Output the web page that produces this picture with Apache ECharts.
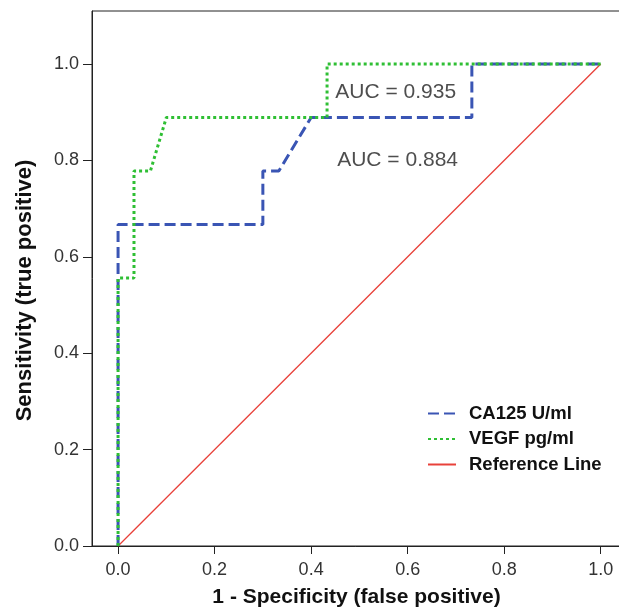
<!DOCTYPE html>
<html><head><meta charset="utf-8">
<script src="https://cdn.jsdelivr.net/npm/echarts@6/dist/echarts.min.js"></script>
<style>html,body{margin:0;padding:0;background:#fff}#c{width:619px;height:608px}</style>
</head><body><div id="c"></div>
<script>
// ---- data ----
const xTicks = [0, 0.2, 0.4, 0.6, 0.8, 1.0];
const yTicks = [0, 0.2, 0.4, 0.6, 0.8, 1.0];
const seriesNames = ['CA125 U/ml', 'VEGF pg/ml', 'Reference Line'];
const ca125 = [[0,0],[0,0.667],[0.3,0.667],[0.3,0.778],[0.333,0.778],[0.4,0.889],[0.733,0.889],[0.733,1],[1,1]];
const vegf  = [[0,0],[0,0.556],[0.033,0.556],[0.033,0.778],[0.067,0.778],[0.1,0.889],[0.433,0.889],[0.433,1],[1,1]];
const refLine = [[0,0],[1,1]];
const aucTexts = ['AUC = 0.935', 'AUC = 0.884'];
const aucAnchors = [[0.450, 0.942], [0.454, 0.801]];

const FONT = 'Liberation Sans, Arial, sans-serif';
const chart = echarts.init(document.getElementById('c'), null, {renderer:'canvas'});
chart.setOption({
  animation: false,
  backgroundColor: '#fff',
  grid: {left: 92, top: 11, right: -2, bottom: 62, containLabel: false, outerBoundsMode: 'none',
         show: true, borderColor: '#222', borderWidth: 1},
  xAxis: {
    type: 'value', min: -0.054, max: 1.042,
    name: '1 - Specificity (false positive)', nameLocation: 'middle', nameGap: 41,
    nameTextStyle: {fontFamily: FONT, fontSize: 21, fontWeight: 'bold', color: '#111'},
    axisLine: {onZero: false, lineStyle: {color: '#222', width: 1}},
    axisTick: {show: true, length: 8, customValues: xTicks, lineStyle: {color: '#222'}},
    axisLabel: {customValues: xTicks, fontFamily: FONT, fontSize: 18, color: '#333', margin: 15,
      formatter: v => v.toFixed(1)},
    splitLine: {show: false}
  },
  yAxis: {
    type: 'value', min: 0, max: 1.11,
    name: 'Sensitivity (true positive)', nameLocation: 'middle', nameGap: 56,
    nameTextStyle: {fontFamily: FONT, fontSize: 22, fontWeight: 'bold', color: '#111', padding: [0, 24, 0, 0]},
    axisLine: {show: true, onZero: false, lineStyle: {color: '#222', width: 1}},
    axisTick: {show: true, length: 9, customValues: yTicks, lineStyle: {color: '#222'}},
    axisLabel: {customValues: yTicks, fontFamily: FONT, fontSize: 18, color: '#333', margin: 13,
      formatter: v => v.toFixed(1)},
    splitLine: {show: false}
  },
  legend: {
    orient: 'vertical', left: 422, top: 399, itemWidth: 28, itemHeight: 6, itemGap: 6.5,
    data: seriesNames,
    itemStyle: {opacity: 0},
    textStyle: {fontFamily: FONT, fontSize: 18.5, fontWeight: 'bold', color: '#111', padding: [0, 0, 0, 8]}
  },
  series: [
    {name: seriesNames[2], type: 'line', data: refLine, symbol: 'none', z: 1,
     lineStyle: {color: '#e8413a', width: 1.3}, itemStyle: {color: '#e8413a'}},
    {name: seriesNames[0], type: 'line', data: ca125, symbol: 'none', z: 2,
     lineStyle: {color: '#3a55b4', width: 3, type: [11, 5]}, itemStyle: {color: '#3a55b4'}},
    {name: seriesNames[1], type: 'line', data: vegf, symbol: 'none', z: 3,
     lineStyle: {color: '#2fbf34', width: 3, type: [3, 3]}, itemStyle: {color: '#2fbf34'}},
    {name: 'auc', type: 'scatter', silent: true, symbolSize: 0, z: 5,
     data: aucAnchors.map((c, i) => ({value: c, label: {formatter: aucTexts[i]}})),
     itemStyle: {color: 'rgba(0,0,0,0)'},
     label: {show: true, position: 'right', distance: 0, fontFamily: FONT, fontSize: 21, color: '#222'}}
  ]
});
</script></body></html>
